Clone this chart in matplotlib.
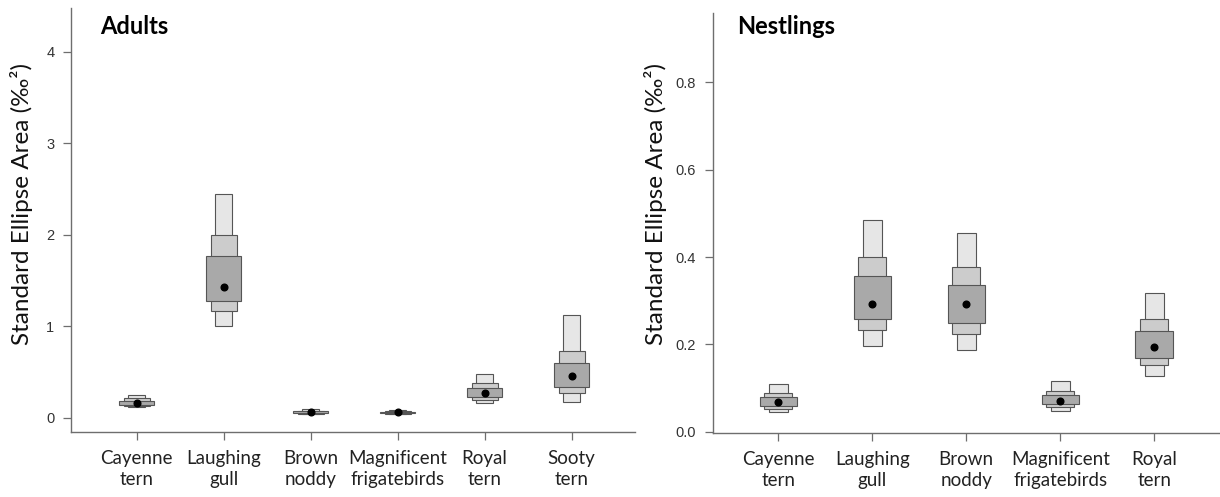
import numpy as np
import matplotlib
matplotlib.use("Agg")
import matplotlib.pyplot as plt

# ---------------------------------------------------------------------------
# Data: SEA credible intervals (95 / 75 / 50 %) and modes
# ---------------------------------------------------------------------------
adult_species = ["Cayenne\ntern", "Laughing\ngull", "Brown\nnoddy",
                 "Magnificent\nfrigatebirds", "Royal\ntern", "Sooty\ntern"]
adult_mode  = [0.160, 1.430, 0.062, 0.060, 0.270, 0.455]
adult_95_lo = [0.115, 1.000, 0.040, 0.040, 0.167, 0.178]
adult_95_hi = [0.250, 2.450, 0.095, 0.090, 0.477, 1.128]
adult_75_lo = [0.128, 1.170, 0.048, 0.047, 0.200, 0.276]
adult_75_hi = [0.215, 1.995, 0.080, 0.078, 0.379, 0.735]
adult_50_lo = [0.143, 1.277, 0.053, 0.052, 0.226, 0.335]
adult_50_hi = [0.190, 1.772, 0.072, 0.070, 0.324, 0.597]

nest_species = ["Cayenne\ntern", "Laughing\ngull", "Brown\nnoddy",
                "Magnificent\nfrigatebirds", "Royal\ntern"]
nest_mode  = [0.069, 0.293, 0.293, 0.070, 0.193]
nest_95_lo = [0.044, 0.196, 0.186, 0.047, 0.127]
nest_95_hi = [0.109, 0.486, 0.455, 0.116, 0.318]
nest_75_lo = [0.052, 0.233, 0.224, 0.056, 0.153]
nest_75_hi = [0.089, 0.400, 0.377, 0.094, 0.259]
nest_50_lo = [0.059, 0.258, 0.248, 0.063, 0.168]
nest_50_hi = [0.080, 0.356, 0.335, 0.085, 0.231]

adult_yticks = [0, 1, 2, 3, 4]
nest_yticks = [0.0, 0.2, 0.4, 0.6, 0.8]

# ---------------------------------------------------------------------------
# Style
# ---------------------------------------------------------------------------
box_fills = ["#e6e6e6", "#cccccc", "#a9a9a9"]   # 95, 75, 50 %
box_widths = [0.2, 0.3, 0.4]
edge = "#555555"
axis_col = "#6e6e6e"
text_font = "Lato"
tick_font = "Liberation Sans"
ylabel = "Standard Ellipse Area (\u2030\u00b2)"

W, H = 1220, 497
fig = plt.figure(figsize=(W / 100, H / 100), dpi=100)


def px_axes(x0, y0, x1, y1):
    return fig.add_axes([x0 / W, 1 - y1 / H, (x1 - x0) / W, (y1 - y0) / H])


def density_boxes(ax, labels, mode, intervals, xlim, ylim, yticks, fmt):
    x = np.arange(1, len(labels) + 1)
    for (lo, hi), fill, w in zip(intervals, box_fills, box_widths):
        lo = np.asarray(lo)
        hi = np.asarray(hi)
        ax.bar(x, hi - lo, bottom=lo, width=w, color=fill,
               edgecolor=edge, linewidth=0.8, zorder=2)
    ax.plot(x, mode, "o", color="black", markersize=4.8, zorder=3)

    ax.set_xlim(*xlim)
    ax.set_ylim(*ylim)
    ax.set_xticks(x)
    ax.set_xticklabels(labels, fontfamily=text_font, fontsize=13.5,
                       color="#222222", linespacing=1.3)
    ax.set_yticks(yticks)
    ax.set_yticklabels([fmt.format(v) for v in yticks],
                       fontfamily=tick_font, fontsize=10.5, color="#333333")
    ax.tick_params(axis="both", direction="out", length=6, width=0.9,
                   color=axis_col)
    ax.tick_params(axis="x", pad=7)
    ax.tick_params(axis="y", pad=6)
    for side in ["top", "right"]:
        ax.spines[side].set_visible(False)
    for side in ["left", "bottom"]:
        ax.spines[side].set_color(axis_col)
        ax.spines[side].set_linewidth(1.0)
    ax.set_ylabel(ylabel, fontfamily=text_font, fontsize=17.5, color="#111111")


# --- Adults ---
ax1 = px_axes(71, 8, 635, 432)
density_boxes(ax1, adult_species, adult_mode,
              [(adult_95_lo, adult_95_hi), (adult_75_lo, adult_75_hi),
               (adult_50_lo, adult_50_hi)],
              (0.245, 6.728), (-0.153, 4.476), adult_yticks, "{:.0f}")
ax1.yaxis.set_label_coords(-0.067, 0.538)

# --- Nestlings ---
ax2 = px_axes(712.7, 13, 1220, 433)
density_boxes(ax2, nest_species, nest_mode,
              [(nest_95_lo, nest_95_hi), (nest_75_lo, nest_75_hi),
               (nest_50_lo, nest_50_hi)],
              (0.302, 5.699), (-0.003, 0.959), nest_yticks, "{:.1f}")
ax2.yaxis.set_label_coords(-0.090, 0.545)

# Panel titles
fig.text(100 / W, 1 - 27 / H, "Adults", fontfamily=text_font,
         fontweight="bold", fontsize=17, va="center", ha="left")
fig.text(737 / W, 1 - 27 / H, "Nestlings", fontfamily=text_font,
         fontweight="bold", fontsize=17, va="center", ha="left")

fig.savefig("out.png", dpi=100)
